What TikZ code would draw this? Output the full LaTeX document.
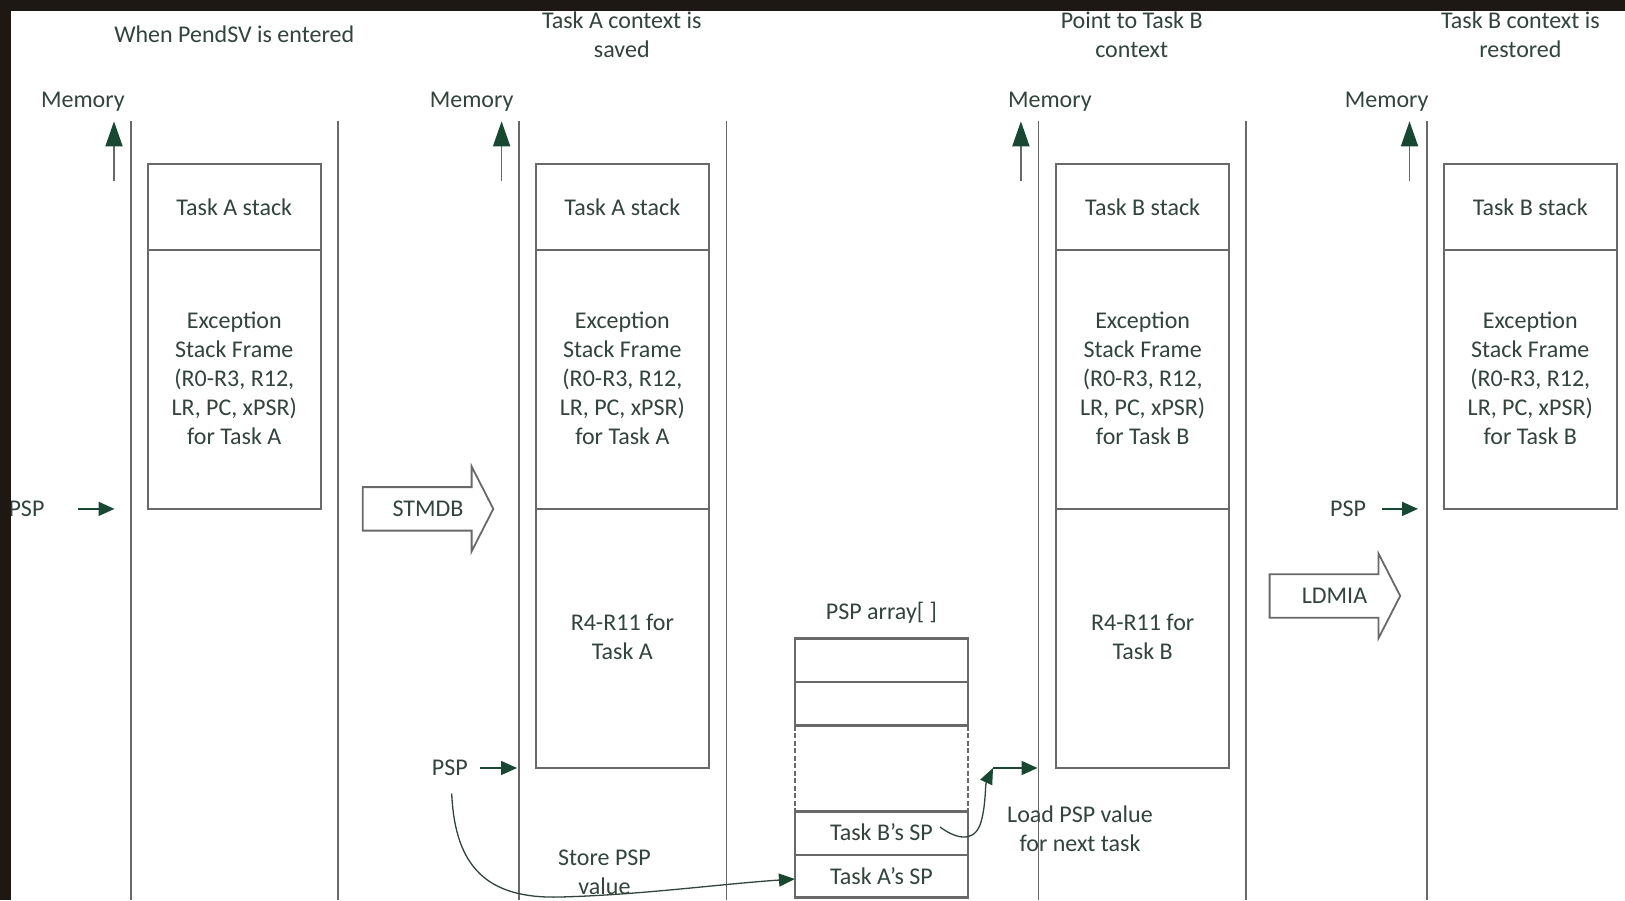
\documentclass[tikz,border=0pt]{standalone}
\usepackage{fontspec}
\setmainfont{Carlito}
\usetikzlibrary{arrows.meta}
\definecolor{txtc}{RGB}{50,68,60}
\definecolor{grn}{RGB}{25,72,50}
\definecolor{linec}{RGB}{105,105,105}
\definecolor{bandc}{RGB}{30,24,20}
\begin{document}
\begin{tikzpicture}[x=1pt,y=-1pt,
  lbl/.style={font=\fontsize{24}{29}\selectfont, text=txtc, align=center, inner sep=2pt},
  col/.style={draw=linec, line width=1.8pt},
  cell/.style={draw=linec, line width=2.2pt, minimum width=173pt, anchor=north, inner sep=0pt, outer sep=0pt},
  memarr/.style={draw=linec, line width=1.6pt, -{Triangle[length=25pt,width=17pt,color=grn]}},
  pspar/.style={draw=grn, line width=1.7pt, -{Triangle[length=16pt,width=14pt]}},
  curvar/.style={draw=txtc, line width=1.3pt, -{Triangle[length=16pt,width=13pt,color=grn]}},
  fatarr/.style={draw=linec, line width=1.8pt, fill=white, line join=miter},
]
\useasboundingbox (0,0) rectangle (1625,900);
\fill[white] (0,0) rectangle (1625,900);

% column lines
\foreach \x in {130.6,337.9,519.2,726.5,1038.5,1245.8,1427.1}
  \draw[col] (\x,121.3) -- (\x,900);

% titles
\node[lbl] (t1) at (234.2,34.2) {When PendSV is entered};
\node[lbl] (t2) at (621.8,35.2) {Task A context is\\saved};
\node[lbl] (t3) at (1131.7,35.2) {Point to Task B\\context};
\node[lbl] (t4) at (1520.4,35.2) {Task B context is\\restored};

% memory labels and arrows
\node[lbl] (m1) at (82.9,101.5) {Memory};
\node[lbl] (m2) at (471.6,101.5) {Memory};
\node[lbl] (m3) at (1049.9,101.5) {Memory};
\node[lbl] (m4) at (1386.7,101.5) {Memory};
\foreach \x/\n in {114/1,501.6/2,1020.9/3,1409.5/4}{
  \coordinate (ma\n) at (\x,181.4);
  \coordinate (mb\n) at (\x,121.3);
  \draw[memarr] (ma\n) -- (mb\n);
}

% stack 1
\node[cell, minimum height=86pt] (a1) at (234.25,163.8) {};
\node[cell, minimum height=259.1pt] (a2) at (a1.south) {};
\node[lbl] (a1t) at ([yshift=0pt]a1.center) {Task A stack};
\node[lbl] (a2t) at ([yshift=1.5pt]a2.center) {Exception\\Stack Frame\\(R0-R3, R12,\\LR, PC, xPSR)\\for Task A};

% stack 2
\node[cell, minimum height=86pt] (b1) at (622.35,163.8) {};
\node[cell, minimum height=259.1pt] (b2) at (b1.south) {};
\node[cell, minimum height=259.1pt] (b3) at (b2.south) {};
\node[lbl] (b1t) at ([yshift=0pt]b1.center) {Task A stack};
\node[lbl] (b2t) at ([yshift=1.5pt]b2.center) {Exception\\Stack Frame\\(R0-R3, R12,\\LR, PC, xPSR)\\for Task A};
\node[lbl] (b3t) at ([yshift=1.5pt]b3.center) {R4-R11 for\\Task A};

% stack 3
\node[cell, minimum height=86pt] (c1) at (1142.65,163.8) {};
\node[cell, minimum height=259.1pt] (c2) at (c1.south) {};
\node[cell, minimum height=259.1pt] (c3) at (c2.south) {};
\node[lbl] (c1t) at ([yshift=0pt]c1.center) {Task B stack};
\node[lbl] (c2t) at ([yshift=1.5pt]c2.center) {Exception\\Stack Frame\\(R0-R3, R12,\\LR, PC, xPSR)\\for Task B};
\node[lbl] (c3t) at ([yshift=1.5pt]c3.center) {R4-R11 for\\Task B};

% stack 4
\node[cell, minimum height=86pt] (d1) at (1530.25,163.8) {};
\node[cell, minimum height=259.1pt] (d2) at (d1.south) {};
\node[lbl] (d1t) at ([yshift=0pt]d1.center) {Task B stack};
\node[lbl] (d2t) at ([yshift=1.5pt]d2.center) {Exception\\Stack Frame\\(R0-R3, R12,\\LR, PC, xPSR)\\for Task B};

% PSP pointers
\node[lbl] (p1) at (26.5,508.9) {PSP};
\coordinate (p1a) at (77.7,508.9); \coordinate (p1b) at (114.5,508.9);
\draw[pspar] (p1a) -- (p1b);
\node[lbl] (p2) at (449.8,768) {PSP};
\coordinate (p2a) at (479.9,768); \coordinate (p2b) at (517,768);
\draw[pspar] (p2a) -- (p2b);
\node[lbl] (p4) at (1348,508.9) {PSP};
\coordinate (p4a) at (1381.7,508.9); \coordinate (p4b) at (1418,508.9);
\draw[pspar] (p4a) -- (p4b);

% fat arrows
\draw[fatarr] (362.7,487.1) -- (471.6,487.1) -- (471.6,466.4) -- (493.3,508.9) -- (471.6,551.4) -- (471.6,530.6) -- (362.7,530.6) -- cycle;
\node[lbl] (stm) at (428,508.9) {STMDB};
\draw[fatarr] (1269.6,574.2) -- (1378.4,574.2) -- (1378.4,553.4) -- (1400.2,595.9) -- (1378.4,638.4) -- (1378.4,617.7) -- (1269.6,617.7) -- cycle;
\node[lbl] (ldm) at (1334.5,595.9) {LDMIA};

% PSP array
\node[lbl] (pa) at (881.45,612.5) {PSP array[ ]};
\node[cell, minimum height=43.6pt] (r1) at (881.45,638.4) {};
\node[cell, minimum height=43.5pt] (r2) at (r1.south) {};
\node[cell, minimum height=43.5pt] (r4) at (881.45,811.5) {};
\node[cell, minimum height=42.5pt] (r5) at (r4.south) {};
\node[lbl] (ta) at (881.45,876) {Task A’s SP};
\node[lbl] (tb) at (881.45,832) {Task B’s SP};
\draw[linec, line width=1.6pt, dash pattern=on 5pt off 2.5pt] (r2.south west) -- (r4.north west);
\draw[linec, line width=1.6pt, dash pattern=on 5pt off 2.5pt] (r2.south east) -- (r4.north east);

% store PSP value
\coordinate (s0) at (451.7,793.5);
\draw[curvar] (s0) .. controls (455,868) and (488,899) .. (560,897)
  .. controls (640,895) and (720,884) .. (r5.west |- 0,879);
\node[lbl] (st) at (604.5,872.5) {Store PSP\\value};

% load PSP value
\coordinate (l0) at (940,827);
\coordinate (ld) at (993,768);
\coordinate (lc) at (1037.5,768);
\draw[curvar] (l0) .. controls (952,836) and (972,845) .. (980,825)
  .. controls (986,808) and (985,785) .. (ld);
\draw[pspar] (ld) -- (lc);
\node[lbl] (lt) at (1080,829) {Load PSP value\\for next task};

% dark photo border
\fill[bandc] (0,0) rectangle (1625,11);
\fill[bandc] (0,0) rectangle (11,900);
\end{tikzpicture}
\end{document}
